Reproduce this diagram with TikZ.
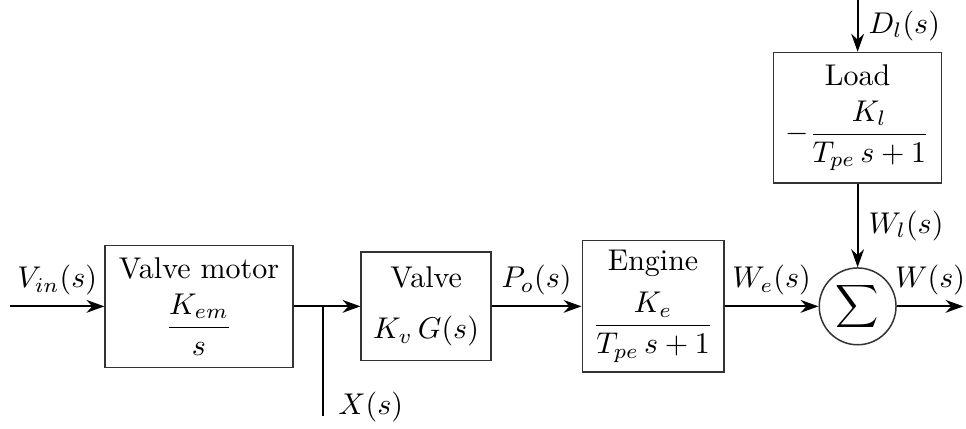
\documentclass[tikz,border=0pt]{standalone}
\usepackage{amsmath}
\usetikzlibrary{arrows.meta,positioning,calc}
\tikzset{
  blockbox/.style={draw=black!80, line width=0.5pt, align=center, inner sep=2pt},
  sumnode/.style={draw=black!80, line width=0.5pt, circle, minimum size=0.9cm, inner sep=0pt},
  sigarrow/.style={-{Stealth[length=2.1mm, width=1.5mm]}, line width=0.6pt},
  sigline/.style={line width=0.6pt},
}

\begin{document}
\begin{tikzpicture}
    \useasboundingbox (0,-1.43) rectangle (11.32,3.59);
    \node[blockbox, minimum width=2.2cm, minimum height=1.43cm] (motor) at (2.332,0) {Valve motor\\[4pt] $\dfrac{K_{em}}{s}$};
    \node[blockbox, minimum width=1.52cm, minimum height=1.27cm] (valve) at (4.993,0) {Valve\\[5pt] $K_v\,G(s)$};
    \node[blockbox, minimum width=1.66cm, minimum height=1.54cm] (engine) at (7.653,0) {Engine\\[4pt] $\dfrac{K_e}{T_{pe}\,s+1}$};
    \node[sumnode] (sum) at (10.05,0) {$\displaystyle\sum$};
    \node[blockbox, minimum width=1.97cm, minimum height=1.53cm] (load) at (10.05,2.21) {Load\\[4pt] $-\dfrac{K_l}{T_{pe}\,s+1}$};
    \coordinate (vin) at (0.117,0);
    \coordinate (branch) at (3.786,0);
    \coordinate (xout) at (3.786,-1.29);
    \coordinate (dist) at (10.05,3.59);
    \coordinate (wout) at (11.29,0);
    \draw[sigarrow] (vin) -- node[above] {$V_{in}(s)$} (motor);
    \draw[sigline] (motor) -- (branch);
    \draw[sigarrow] (branch) -- (valve);
    \draw[sigline] (branch) -- node[pos=.91, right=1.5pt] {$X(s)$} (xout);
    \draw[sigarrow] (valve) -- node[above] {$P_o(s)$} (engine);
    \draw[sigarrow] (engine) -- node[above] {$W_e(s)$} (sum);
    \draw[sigarrow] (sum) -- node[above] {$W(s)$} (wout);
    \draw[sigarrow] (dist) -- node[right] {$D_l(s)$} (load);
    \draw[sigarrow] (load) -- node[right] {$W_l(s)$} (sum);
\end{tikzpicture}
\end{document}
